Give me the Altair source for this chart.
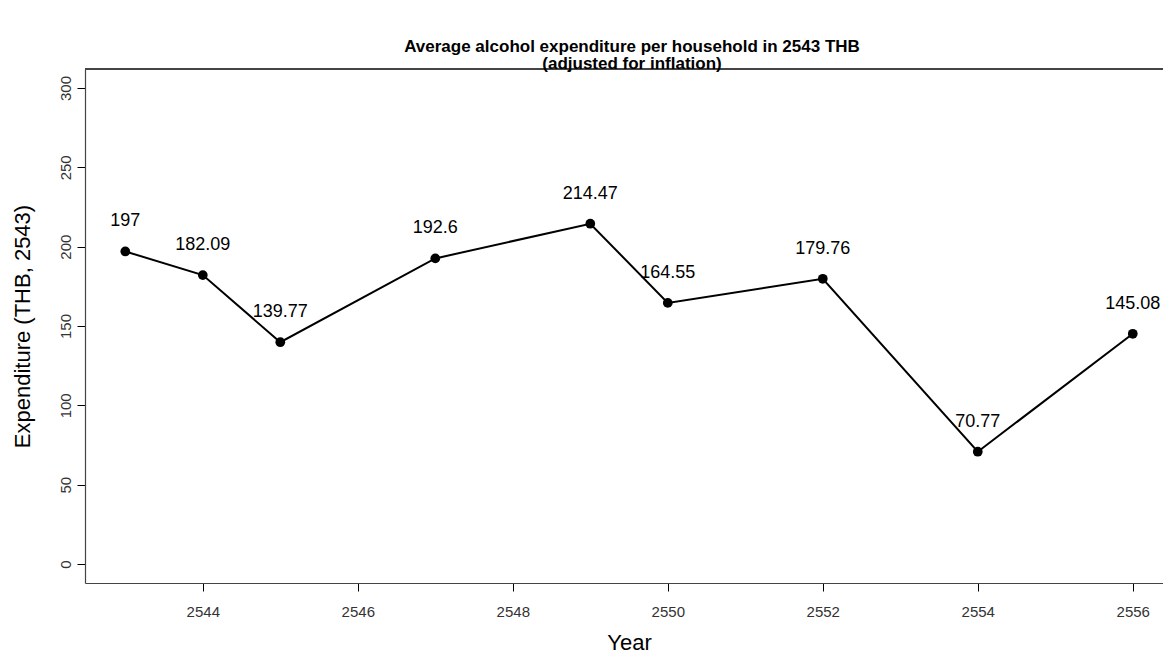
import altair as alt
import pandas as pd

years = [2543, 2544, 2545, 2547, 2549, 2550, 2552, 2554, 2556]
values = [197, 182.09, 139.77, 192.6, 214.47, 164.55, 179.76, 70.77, 145.08]
labels = ["197", "182.09", "139.77", "192.6", "214.47", "164.55", "179.76", "70.77", "145.08"]
x_ticks = [2544, 2546, 2548, 2550, 2552, 2554, 2556]
y_ticks = [0, 50, 100, 150, 200, 250, 300]

df = pd.DataFrame({"Year": years, "Value": values, "Label": labels})

FONT = "Liberation Sans"
W, H = 1078, 514
FRAME = "#444"

x = alt.X("Year:Q",
          scale=alt.Scale(domain=[2542.48, 2556.39], nice=False, zero=False),
          axis=alt.Axis(values=x_ticks, format="d", title="Year", grid=False, domain=True,
                        domainColor=FRAME, domainWidth=1.2,
                        tickSize=8, tickColor="#000", labelPadding=13, labelFontSize=15,
                        labelColor="#333", labelFont=FONT, titleFont=FONT, titleFontSize=22,
                        titleFontWeight="normal", titleColor="#000", titleX=544, titleY=59,
                        titleAlign="center", titleBaseline="middle"))
y = alt.Y("Value:Q",
          scale=alt.Scale(domain=[-12, 312], nice=False, zero=False),
          axis=alt.Axis(values=y_ticks, title="Expenditure (THB, 2543)", grid=False, domain=True,
                        domainColor=FRAME, domainWidth=1.2,
                        tickSize=8, tickColor="#000", labelAngle=-90, labelAlign="center",
                        labelBaseline="bottom", labelPadding=4, labelFontSize=15,
                        labelColor="#333", labelFont=FONT, titleFont=FONT, titleFontSize=22,
                        titleFontWeight="normal", titleColor="#000", titleX=-63, titleY=257,
                        titleAngle=-90, titleAlign="center", titleBaseline="middle"))

base = alt.Chart(df)
top_border = base.mark_rule(color=FRAME, strokeWidth=1.2).encode(
    x=alt.value(0), x2=alt.value(W), y=alt.value(0))
line = base.mark_line(color="#000", strokeWidth=2).encode(x=x, y=y)
pts = base.mark_circle(color="#000", size=95, opacity=1).encode(x=x, y=y)
txt = base.mark_text(font=FONT, fontSize=18, color="#000", dy=-30, baseline="middle",
                     align="center").encode(x=x, y=y, text="Label:N")

chart = alt.layer(top_border, line, pts, txt).properties(
    width=W, height=H,
    autosize=alt.AutoSizeParams(type="none"),
    padding={"left": 77, "top": 61, "right": 0, "bottom": 70},
    title=alt.TitleParams(
        text=["Average alcohol expenditure per household in 2543 THB", "(adjusted for inflation)"],
        font=FONT, fontSize=17, fontWeight="bold", color="#000", anchor="middle",
        frame="group", baseline="bottom", offset=-22, lineHeight=17, dx=8),
).configure_view(stroke=None)

chart.save("out.html", embed_options={"renderer": "svg", "actions": False})
